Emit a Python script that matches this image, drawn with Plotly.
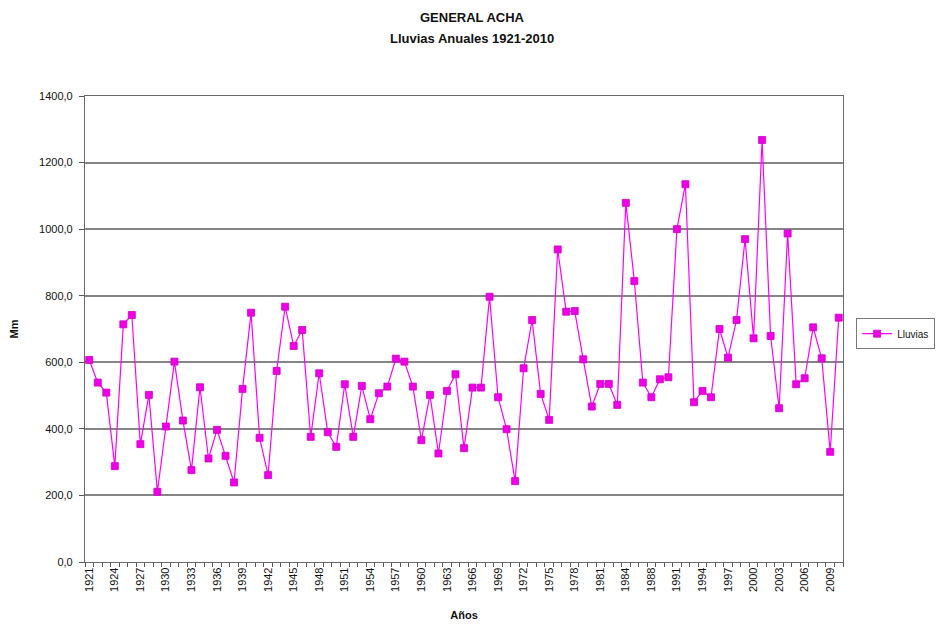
import plotly.graph_objects as go

# Annual rainfall, General Acha (mm). The record skips one year in the mid-1980s.
years = [str(y) for y in range(1921, 1985)] + ["1985", "1986"] + [str(y) for y in range(1988, 2011)]
rain = [
    607, 539, 509, 288, 714, 742, 354, 502, 211, 407,   # 1921-1930
    602, 425, 276, 525, 311, 397, 319, 239, 520, 749,   # 1931-1940
    373, 261, 574, 767, 649, 697, 376, 567, 390, 346,   # 1941-1950
    534, 376, 529, 429, 507, 527, 611, 602, 527, 366,   # 1951-1960
    502, 326, 514, 564, 342, 524, 524, 797, 495, 399,   # 1961-1970
    243, 582, 727, 505, 427, 939, 752, 754, 609, 467,   # 1971-1980
    535, 535, 472, 1079, 844, 539,                      # 1981-1986
    495, 549, 555, 1000, 1135, 480, 514, 495, 700, 614, # 1988-1997
    727, 970, 672, 1268, 679, 462, 987, 534, 552, 705,  # 1998-2007
    612, 331, 734,                                      # 2008-2010
]
# Every third category carries a label; the rest keep only a tick mark.
tick_text = [y if i % 3 == 0 else "" for i, y in enumerate(years)]
y_ticks = [0, 200, 400, 600, 800, 1000, 1200, 1400]
title_lines = ["GENERAL ACHA", "Lluvias Anuales 1921-2010"]

FONT = "Liberation Sans, Arial, sans-serif"
MAGENTA = "#FF00FF"
GRID = "#858585"

fig = go.Figure()
fig.add_trace(go.Scatter(
    x=years, y=rain, mode="lines+markers", name="Lluvias",
    line=dict(color=MAGENTA, width=1.2),
    marker=dict(symbol="square", size=7, color="#EE00E6",
                line=dict(color="#D000C8", width=0.8)),
))

fig.update_layout(
    width=946, height=624,
    margin=dict(l=85, r=102, t=96, b=62),
    paper_bgcolor="white", plot_bgcolor="white",
    separators=",.",
    font=dict(family=FONT, size=10, color="#111111"),
    showlegend=True,
    legend=dict(
        x=1.016, y=0.49, xanchor="left", yanchor="middle",
        bgcolor="white", bordercolor="#7a7a7a", borderwidth=1,
        font=dict(family=FONT, size=10, color="#111111"),
        itemwidth=30,
    ),
    annotations=[
        dict(text="<b>" + title_lines[0] + "</b>", xref="paper", yref="paper",
             x=0.511, y=1.169, xanchor="center", yanchor="middle", showarrow=False,
             font=dict(family=FONT, size=13, color="#111111")),
        dict(text="<b>" + title_lines[1] + "</b>", xref="paper", yref="paper",
             x=0.511, y=1.124, xanchor="center", yanchor="middle", showarrow=False,
             font=dict(family=FONT, size=13, color="#111111")),
    ],
)

fig.update_xaxes(
    type="category", categoryorder="array", categoryarray=years,
    tickmode="array", tickvals=years, ticktext=tick_text,
    tickson="boundaries", ticks="outside", ticklen=4, tickcolor="#555555",
    tickangle=-90, tickfont=dict(family=FONT, size=11),
    showgrid=False, showline=True, linecolor="#6a6a6a", linewidth=1.2, mirror=True,
    range=[-0.5, len(years) - 0.5], automargin=False,
    title=dict(text="<b>Años</b>", font=dict(family=FONT, size=11), standoff=20),
)
fig.update_yaxes(
    range=[0, 1400], tickmode="array", tickvals=y_ticks, tickformat=".1f",
    ticks="outside", ticklen=5, tickcolor="#555555",
    tickfont=dict(family=FONT, size=11), ticklabelstandoff=4,
    showgrid=True, gridcolor=GRID, gridwidth=1.5,
    showline=True, linecolor="#6a6a6a", linewidth=1.2, mirror=True,
    zeroline=False, automargin=False,
    title=dict(text="<b>Mm</b>", font=dict(family=FONT, size=11), standoff=18),
)

fig.write_html("out.html")
